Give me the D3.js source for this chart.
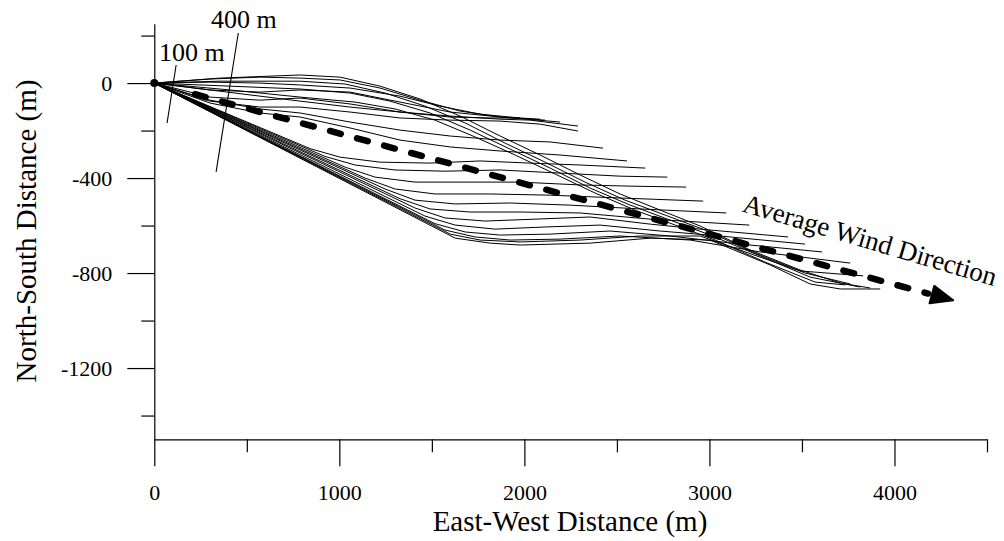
<!DOCTYPE html>
<html><head><meta charset="utf-8">
<script src="https://cdn.jsdelivr.net/npm/d3@7"></script>
<style>
body{margin:0;background:#fff}
svg{display:block}
text{font-family:"Liberation Serif","Times New Roman",serif;fill:#000}
</style>
</head><body>
<svg id="c" width="1004" height="541"></svg>
<script>
// ---- axis ticks ----
const xTicksMajor = [0, 1000, 2000, 3000, 4000];
const xTicksMinor = [500, 1500, 2500, 3500, 4500];
const yTicksMajor = [0, -400, -800, -1200];
const yTicksMinor = [200, -200, -600, -1000, -1400];

// ---- trajectories (East-West m, North-South m) ----
// upper trajectories that curl back and stop near 2000-2500 m
const upperLines = [
  [[0,0],[301,17],[571,25],[788,21],[1004,13],[1220,-21],[1436,-72],[1653,-118],[1869,-143],[2112,-156]],
  [[0,0],[301,4],[571,0],[788,-8],[1058,-21],[1328,-55],[1544,-97],[1761,-131],[1977,-147],[2085,-152]],
  [[0,0],[301,-29],[571,-38],[788,-29],[1058,-38],[1328,-80],[1599,-122],[1869,-143],[2193,-164]],
  [[0,0],[301,-29],[571,-55],[788,-76],[1058,-101],[1328,-122],[1599,-139],[1869,-152],[2031,-156],[2290,-181]],
  [[0,0],[301,-59],[571,-72],[788,-63],[1058,-88],[1328,-122],[1599,-143],[1815,-147],[1977,-147]],
  [[0,0],[301,-76],[571,-101],[788,-101],[1058,-122],[1328,-147],[1599,-156],[1869,-160],[2085,-173],[2290,-202]],
  [[0,0],[301,-72],[571,-109],[788,-126],[1058,-164],[1328,-198],[1599,-223],[1869,-240],[2139,-248],[2425,-274]],
  [[0,0],[301,-84],[571,-126],[788,-143],[1058,-189],[1328,-240],[1599,-269],[1869,-286],[2193,-303],[2555,-328]]
];
// trajectories that start flat then turn south-east along the wind direction
const diagonalLines = [
  [[0,0],[355,21],[788,34],[1004,25],[1220,-13],[1436,-67],[1653,-139],[1869,-223],[2085,-303],[2301,-387],[2517,-467],[2734,-535],[2950,-602],[3220,-703],[3490,-787],[3707,-842],[3869,-863]],
  [[0,0],[355,8],[788,8],[1031,-4],[1247,-42],[1463,-97],[1680,-168],[1896,-253],[2112,-333],[2328,-417],[2544,-493],[2761,-556],[2977,-619],[3247,-716],[3517,-800],[3761,-846]],
  [[0,0],[409,-13],[788,-25],[1058,-42],[1274,-76],[1490,-126],[1707,-198],[1923,-278],[2139,-358],[2355,-442],[2572,-514],[2788,-577],[3004,-640],[3274,-728],[3544,-817],[3815,-859]],
  [[0,0],[409,-29],[788,-59],[1085,-80],[1301,-109],[1517,-156],[1734,-227],[1950,-303],[2166,-383],[2382,-463],[2598,-535],[2815,-598],[3031,-661],[3301,-754],[3571,-838],[3734,-850]]
];
// trajectories that start steeply south-east then level off
const lowerLines = [
  [[0,0],[842,-276],[1004,-312],[1220,-333],[1490,-337],[1761,-328],[2031,-337],[2301,-345],[2653,-358]],
  [[0,0],[923,-309],[1085,-345],[1301,-366],[1571,-371],[1869,-366],[2193,-379],[2517,-392],[2772,-396]],
  [[0,0],[1031,-354],[1193,-396],[1409,-417],[1680,-417],[1977,-417],[2301,-429],[2572,-434],[2874,-438]],
  [[0,0],[1139,-400],[1301,-446],[1517,-467],[1815,-467],[2139,-472],[2517,-484],[2966,-497]],
  [[0,0],[1247,-446],[1409,-493],[1626,-509],[1923,-505],[2247,-514],[2626,-530],[3091,-547]],
  [[0,0],[1328,-487],[1490,-530],[1707,-543],[1977,-543],[2301,-547],[2680,-573],[3215,-598]],
  [[0,0],[1409,-526],[1571,-568],[1788,-581],[2058,-573],[2355,-564],[2680,-594],[2950,-615],[3425,-648]],
  [[0,0],[1463,-560],[1626,-598],[1842,-615],[2112,-606],[2409,-598],[2734,-623],[3058,-644],[3517,-678]],
  [[0,0],[1517,-592],[1680,-627],[1869,-640],[2139,-636],[2463,-623],[2788,-644],[3166,-678],[3609,-711]],
  [[0,0],[1571,-619],[1734,-648],[1923,-661],[2193,-657],[2517,-644],[2896,-661],[3274,-711],[3761,-758]],
  [[0,0],[1599,-636],[1761,-661],[1977,-669],[2301,-661],[2626,-644],[2950,-644],[3274,-733],[3490,-791],[3831,-812]],
  [[0,0],[1626,-653],[1815,-674],[1977,-682],[2355,-674],[2680,-653],[3004,-661],[3328,-766],[3544,-846],[3707,-867],[3923,-867]]
];

// ---- annotations (data units) ----
const windArrow = [[220,-47],[4317,-915]];
const leader100 = [[118,76],[69,-168]];
const leader400 = [[454,211],[334,-374]];
const label100 = {text:"100 m", x:25, y:92};
const label400 = {text:"400 m", x:306, y:232};
const windLabel = {text:"Average Wind Direction", x:3172, y:-540};

const svg = d3.select("#c");
const x = d3.scaleLinear().domain([0,4500]).range([154.3,987]);
const y = d3.scaleLinear().domain([-1500,250]).range([439.3,23.7]);
const FONT = '"Liberation Serif","Times New Roman",serif';

// axes
const fmt = d => String(d);
const yMaj = svg.append("g").attr("transform",`translate(${x(0)},0)`)
  .call(d3.axisLeft(y).tickValues(yTicksMajor).tickSize(27).tickSizeOuter(0).tickPadding(15).tickFormat(fmt));
const yMin = svg.append("g").attr("transform",`translate(${x(0)},0)`)
  .call(d3.axisLeft(y).tickValues(yTicksMinor).tickSize(13).tickSizeOuter(0).tickFormat(""));
const xMaj = svg.append("g").attr("transform",`translate(0,${y(-1500)})`)
  .call(d3.axisBottom(x).tickValues(xTicksMajor).tickSize(27).tickSizeOuter(0).tickPadding(18).tickFormat(fmt));
const xMin = svg.append("g").attr("transform",`translate(0,${y(-1500)})`)
  .call(d3.axisBottom(x).tickValues(xTicksMinor).tickSize(13).tickSizeOuter(0).tickFormat(""));
yMin.select(".domain").remove(); xMin.select(".domain").remove();
[yMaj,yMin,xMaj,xMin].forEach(g=>g.attr("font-family",FONT).attr("font-size",22));
svg.selectAll(".tick line").attr("stroke","#000").attr("stroke-width",1.2);
svg.selectAll(".domain").attr("stroke","#000").attr("stroke-width",1.2);
svg.selectAll(".tick text").style("font-family",FONT).style("font-size","22px").attr("fill","#000");

// axis titles
svg.append("text").attr("x",570).attr("y",531).attr("text-anchor","middle")
  .style("font-size","29px").text("East-West Distance (m)");
svg.append("text").attr("transform","translate(36,231) rotate(-90)").attr("text-anchor","middle")
  .style("font-size","29px").text("North-South Distance (m)");

// trajectories
const line = d3.line().x(d=>x(d[0])).y(d=>y(d[1]));
const allLines = [...upperLines, ...diagonalLines, ...lowerLines];
svg.append("g").selectAll("path").data(allLines).join("path")
  .attr("d",line).attr("fill","none").attr("stroke","#000").attr("stroke-width",1)
  .attr("stroke-linejoin","round");

// origin dot
svg.append("circle").attr("cx",x(0)).attr("cy",y(0)).attr("r",4).attr("fill","#000");

// leader lines and labels
[leader100, leader400].forEach(l=>{
  svg.append("path").attr("d",line(l)).attr("stroke","#000").attr("stroke-width",1.1).attr("fill","none");
});
[label100,label400].forEach(l=>{
  svg.append("text").attr("x",x(l.x)).attr("y",y(l.y)).style("font-size","26px").text(l.text);
});

// wind arrow
const p0=[x(windArrow[0][0]),y(windArrow[0][1])], p1=[x(windArrow[1][0]),y(windArrow[1][1])];
const ang=Math.atan2(p1[1]-p0[1],p1[0]-p0[0]);
const headLen=22, headW=9;
const bx=p1[0]-headLen*Math.cos(ang), by=p1[1]-headLen*Math.sin(ang);
svg.append("line").attr("x1",p0[0]).attr("y1",p0[1]).attr("x2",bx-4*Math.cos(ang)).attr("y2",by-4*Math.sin(ang))
  .attr("stroke","#000").attr("stroke-width",6.5).attr("stroke-linecap","round").attr("stroke-dasharray","11,17");
const nx=-Math.sin(ang), ny=Math.cos(ang);
svg.append("path").attr("d",`M${p1[0]},${p1[1]}L${bx+nx*headW},${by+ny*headW}L${bx-nx*headW},${by-ny*headW}Z`)
  .attr("fill","#000").attr("stroke","#000").attr("stroke-width",2).attr("stroke-linejoin","round");
svg.append("text").attr("transform",`translate(${x(windLabel.x)},${y(windLabel.y)}) rotate(16.5)`)
  .style("font-size","27px").text(windLabel.text);
</script>
</body></html>
